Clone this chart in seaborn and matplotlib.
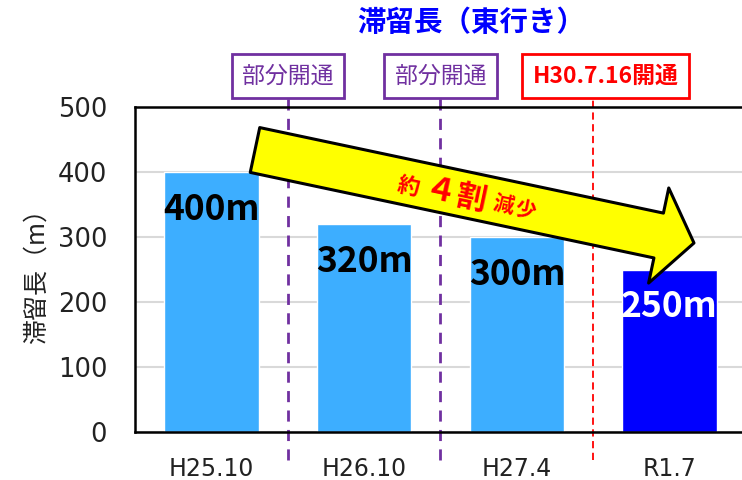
import matplotlib
matplotlib.use("Agg")
import numpy as np
import pandas as pd
import matplotlib.pyplot as plt
import matplotlib.transforms as mtransforms
import seaborn as sns

# data
periods = ["H25.10", "H26.10", "H27.4", "R1.7"]
lengths = [400, 320, 300, 250]
bar_colors = ["#3DAEFF", "#3DAEFF", "#3DAEFF", "#0000FF"]
label_colors = ["black", "black", "black", "white"]
openings = ["部分開通", "部分開通", "H30.7.16開通"]
opening_colors = ["#7030A0", "#7030A0", "#FF0000"]
reduction_text = [("約", 16), ("４", 23), ("割", 22), ("減", 15), ("少", 15)]

sns.set_theme(style="white")
plt.rcParams["font.family"] = ["DejaVu Sans", "Noto Sans CJK JP"]
JP = ["Noto Sans CJK JP", "DejaVu Sans"]

df = pd.DataFrame({"period": periods, "length": lengths})

fig = plt.figure(figsize=(7.42, 4.8), dpi=100)
ax = fig.add_axes([135 / 742, 48 / 480, 611 / 742, 325 / 480])

sns.barplot(data=df, x="period", y="length", hue="period", palette=bar_colors,
            legend=False, width=0.62, saturation=1, ax=ax)

ax.set_ylim(0, 500)
ax.set_xlim(-0.5, 3.5)
ax.set_yticks(np.arange(0, 501, 100))
ax.yaxis.grid(True, color="#D9D9D9", lw=1.5)
ax.set_axisbelow(True)
for s in ax.spines.values():
    s.set_color("black")
    s.set_linewidth(1.8)
ax.tick_params(axis="y", labelsize=18.5, pad=20, length=0, colors="#222222")
ax.tick_params(axis="x", labelsize=17, pad=18, length=0, colors="#222222")
ax.set_xlabel("")
ax.set_ylabel("滞留長（m）", fontsize=18, family=JP, labelpad=6, color="#222222")

# value labels inside bars
for i, (v, c) in enumerate(zip(lengths, label_colors)):
    ax.text(i, v - 57, f"{v}m", ha="center", va="center", fontsize=25.5,
            fontweight="bold", color=c, family=JP)

# opening markers between periods
trans = mtransforms.blended_transform_factory(ax.transData, ax.transAxes)
for k, (txt, col) in enumerate(zip(openings, opening_colors)):
    xline = k + 0.5
    if col == "#FF0000":
        ax.plot([xline, xline], [-0.086, 1.025], transform=trans, clip_on=False,
                color=col, lw=1.3, ls=(0, (4, 2.5)))
        xbox = xline + 0.08
        weight = "bold"
    else:
        ax.plot([xline, xline], [-0.086, 1.025], transform=trans, clip_on=False,
                color=col, lw=2, ls=(0, (4, 3)))
        xbox = xline
        weight = "normal"
    ax.text(xbox, 1.095, txt, transform=trans, ha="center", va="center",
            fontsize=16.5, color=col, fontweight=weight, family=JP,
            bbox=dict(boxstyle="square,pad=0.45", fc="white", ec=col, lw=2))

# big yellow trend arrow
ax.annotate("", xy=(694, 237), xytext=(255, 330),
            xycoords="figure pixels", textcoords="figure pixels",
            arrowprops=dict(arrowstyle="simple,head_length=2.6,head_width=7,tail_width=3.3",
                            mutation_scale=10, fc="#FFFF00", ec="black", lw=2.2,
                            shrinkA=0, shrinkB=0))

pos = [(408, 293), (440, 288), (471, 282), (503, 275), (525, 270)]
for (ch, size), (px, py) in zip(reduction_text, pos):
    fig.text(px / 742, py / 480, ch, ha="center", va="center", fontsize=size,
             fontweight="bold", color="#FF0000", rotation=-12, family=JP)

fig.text(471 / 742, 457 / 480, "滞留長（東行き）", ha="center", va="center",
         fontsize=20.5, fontweight="bold", color="#0000FF", family=JP)

fig.savefig("out.png", dpi=100)
